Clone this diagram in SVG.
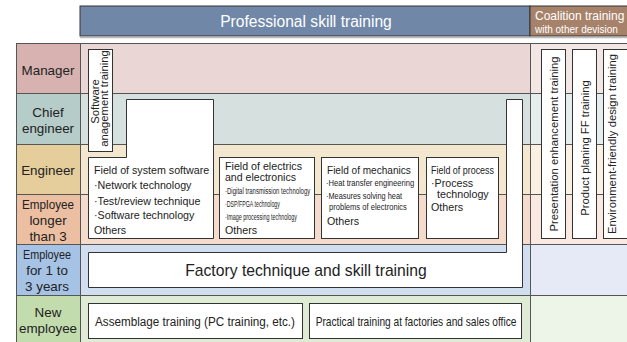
<svg xmlns="http://www.w3.org/2000/svg" width="627" height="342" viewBox="0 0 627 342">
<style>
text{font-family:"Liberation Sans",Arial,sans-serif;fill:#222}
.lbl{font-size:13.4px;text-anchor:middle}
.box{fill:#fff;stroke:#333;stroke-width:1}
.ln{stroke:#555;stroke-width:1}
.ft{font-size:10.7px}
.sm{font-size:9px}
.ms{font-size:8.5px}
.vt{font-size:11.3px;text-anchor:middle}
.hd{fill:#fff}
</style>
<rect width="627" height="342" fill="#fff"/>
<g id="header">
<rect x="80" y="6" width="450" height="30" fill="#7087a8" stroke="#333" stroke-width="1"/>
<rect x="530" y="6" width="100" height="30" fill="#a7826a" stroke="#333" stroke-width="1"/>
<line x1="80" y1="37.5" x2="627" y2="37.5" stroke="#bbb" stroke-width="1.5"/>
<text class="hd" x="306" y="27" font-size="15.6" text-anchor="middle" style="fill:#fff">Professional skill training</text>
<text x="535" y="20" font-size="12" style="fill:#fff">Coalition training</text>
<text x="535" y="32.5" font-size="10" style="fill:#fff">with other devision</text>
</g>
<g id="rows">
<rect x="80" y="43" width="450" height="50" fill="#ead6d5"/>
<rect x="80" y="93" width="450" height="51" fill="#d6e1df"/>
<rect x="80" y="144" width="450" height="50" fill="#f4e7cf"/>
<rect x="80" y="194" width="450" height="50" fill="#f5dbcb"/>
<rect x="80" y="244" width="450" height="51" fill="#d1deef"/>
<rect x="80" y="295" width="450" height="47" fill="#e0ebd6"/>
<rect x="530" y="43" width="97" height="50" fill="#f3e7e5"/>
<rect x="530" y="93" width="97" height="51" fill="#e6eeed"/>
<rect x="530" y="144" width="97" height="50" fill="#faf1e3"/>
<rect x="530" y="194" width="97" height="50" fill="#f9e9e0"/>
<rect x="530" y="244" width="97" height="51" fill="#e5eaf6"/>
<rect x="530" y="295" width="97" height="47" fill="#edf4e8"/>
<rect x="16" y="43" width="64" height="50" fill="#d8b2b0"/>
<rect x="16" y="93" width="64" height="51" fill="#b5ccc9"/>
<rect x="16" y="144" width="64" height="50" fill="#e5cd9c"/>
<rect x="16" y="194" width="64" height="50" fill="#ecbfa3"/>
<rect x="16" y="244" width="64" height="51" fill="#a6c2e5"/>
<rect x="16" y="295" width="64" height="47" fill="#c3dcae"/>
<g class="ln">
<line x1="16" y1="43.5" x2="627" y2="43.5"/>
<line x1="16" y1="93.5" x2="627" y2="93.5"/>
<line x1="16" y1="144.5" x2="627" y2="144.5"/>
<line x1="16" y1="194.5" x2="627" y2="194.5"/>
<line x1="16" y1="244.5" x2="627" y2="244.5"/>
<line x1="16" y1="295.5" x2="627" y2="295.5"/>
<line x1="16.5" y1="43" x2="16.5" y2="342"/>
<line x1="80.5" y1="43" x2="80.5" y2="342"/>
<line x1="530.5" y1="43" x2="530.5" y2="342"/>
</g>
<text class="lbl" x="48" y="75">Manager</text>
<text class="lbl" x="48" y="117">Chief</text>
<text class="lbl" x="48" y="133">engineer</text>
<text class="lbl" x="48" y="175">Engineer</text>
<text class="lbl" x="48" y="208.5" textLength="52" lengthAdjust="spacingAndGlyphs">Employee</text>
<text class="lbl" x="48" y="224.5">longer</text>
<text class="lbl" x="48" y="240.5">than 3</text>
<text class="lbl" x="47" y="259" font-size="11.6" textLength="48" lengthAdjust="spacingAndGlyphs">Employee</text>
<text class="lbl" x="47" y="275" font-size="11.6">for 1 to</text>
<text class="lbl" x="47" y="291" font-size="11.6">3 years</text>
<text class="lbl" x="48" y="317" font-size="12">New</text>
<text class="lbl" x="48" y="333" font-size="12">employee</text>
</g>
<g id="software-management">
<rect class="box" x="88.5" y="49.5" width="24" height="102"/>
<text class="vt" font-size="11" transform="translate(99,101.5) rotate(-90)">Software</text>
<text class="vt" font-size="11" transform="translate(108,98.5) rotate(-90)">anagement training</text>
</g>
<g id="factory">
<polygon class="box" points="88.5,252.5 506.5,252.5 506.5,99.5 522.5,99.5 522.5,287.5 88.5,287.5"/>
<text x="306" y="276" font-size="15.7" text-anchor="middle">Factory technique and skill training</text>
</g>
<g id="system-software">
<polygon class="box" points="126.5,99.5 213.5,99.5 213.5,238.5 88.5,238.5 88.5,157.5 126.5,157.5"/>
<text class="ft" x="94" y="174">Field of system software</text>
<text class="ft" x="94" y="189">·Network technology</text>
<text class="ft" x="94" y="205">·Test/review technique</text>
<text class="ft" x="94" y="219">·Software technology</text>
<text class="ft" x="94" y="234">Others</text>
</g>
<g id="electrics">
<rect class="box" x="219.5" y="157.5" width="95" height="81"/>
<text class="ft" x="225" y="170" textLength="77" lengthAdjust="spacingAndGlyphs">Field of electrics</text>
<text class="ft" x="225" y="181" textLength="71" lengthAdjust="spacingAndGlyphs">and electronics</text>
<text class="sm" transform="translate(225,194) scale(0.672,1)">·Digital transmission technology</text>
<text class="sm" transform="translate(225,206.5) scale(0.585,1)">·DSP/FPGA technology</text>
<text class="sm" transform="translate(225,220) scale(0.602,1)">·Image processing technology</text>
<text class="ft" x="225" y="234">Others</text>
</g>
<g id="mechanics">
<rect class="box" x="321.5" y="157.5" width="97" height="81"/>
<text class="ft" transform="translate(327,174) scale(0.94,1)">Field of mechanics</text>
<text class="ms" transform="translate(326,186) scale(0.895,1)">·Heat transfer engineering</text>
<text class="ms" transform="translate(326,199) scale(0.867,1)">·Measures solving heat</text>
<text class="ms" transform="translate(329,209.5) scale(0.892,1)">problems of electronics</text>
<text class="ft" x="327" y="225">Others</text>
</g>
<g id="process">
<rect class="box" x="426.5" y="157.5" width="72" height="81"/>
<text class="ft" transform="translate(431,174) scale(0.835,1)">Field of process</text>
<text class="ft" x="431" y="187">·Process</text>
<text class="ft" x="437" y="198">technology</text>
<text class="ft" x="431" y="211">Others</text>
</g>
<g id="assemblage">
<rect class="box" x="88.5" y="303.5" width="214" height="35"/>
<text x="195" y="326" font-size="12" text-anchor="middle" textLength="200" lengthAdjust="spacingAndGlyphs">Assemblage training (PC training, etc.)</text>
</g>
<g id="practical">
<rect class="box" x="309.5" y="303.5" width="212" height="35"/>
<text font-size="12" text-anchor="middle" transform="translate(416,326) scale(0.847,1)">Practical training at factories and sales office</text>
</g>
<g id="presentation">
<rect class="box" x="541.5" y="49.5" width="24" height="189"/>
<text class="vt" transform="translate(557.6,144) rotate(-90)">Presentation enhancement training</text>
</g>
<g id="product-planing">
<rect class="box" x="572.5" y="49.5" width="24" height="189"/>
<text class="vt" transform="translate(588.6,148) rotate(-90)">Product planing FF training</text>
</g>
<g id="environment">
<rect class="box" x="603.5" y="49.5" width="25" height="189"/>
<text class="vt" transform="translate(615.6,144) rotate(-90)">Environment-friendly design training</text>
</g>
<g id="connectors"></g>
</svg>
